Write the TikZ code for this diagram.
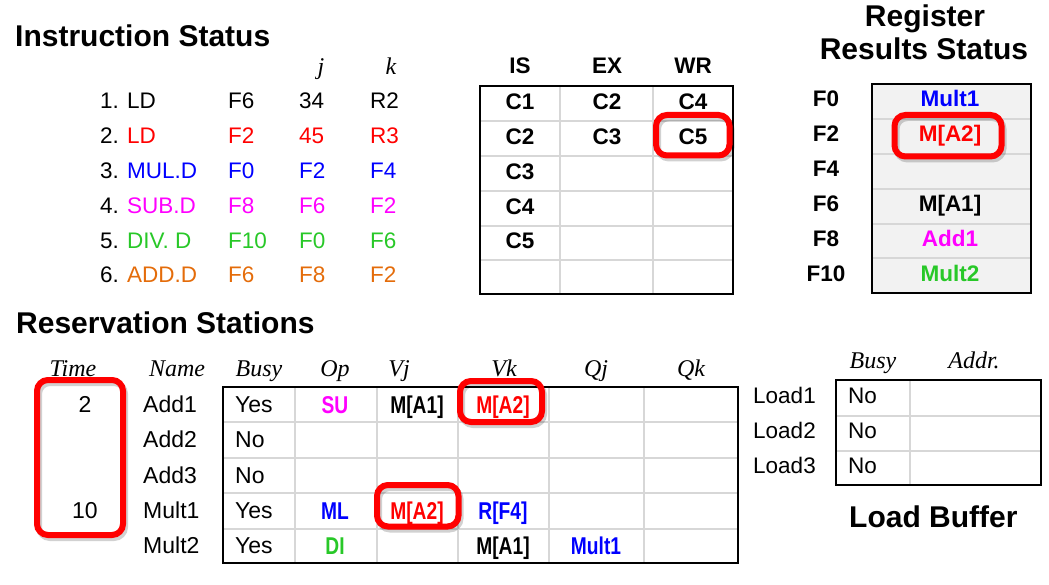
\documentclass[tikz,border=0pt]{standalone}
\usepackage{fontspec}
\setmainfont{Liberation Sans}
\newfontfamily\tms{Liberation Serif}
\newfontfamily\nrw{Liberation Sans}[FakeStretch=0.79]
\definecolor{cgreen}{RGB}{40,200,40}
\definecolor{corange}{RGB}{228,108,10}
\definecolor{cmag}{RGB}{255,0,255}
\definecolor{cblue}{RGB}{0,0,255}
\definecolor{cred}{RGB}{255,0,0}
\definecolor{gridgray}{RGB}{215,215,215}
\definecolor{regfill}{RGB}{242,242,242}
\tikzset{
  txt/.style={inner sep=0pt, font=\fontsize{22.5}{27}\selectfont},
  rtxt/.style={inner sep=0pt, font=\fontsize{23}{27}\selectfont},
  bval/.style={inner sep=0pt, font=\fontsize{22.5}{27}\selectfont\bfseries},
  nval/.style={inner sep=0pt, font=\fontsize{24.3}{28}\selectfont\nrw\bfseries},
  hdr/.style={inner sep=0pt, font=\fontsize{24}{28}\selectfont\tms\itshape},
  ttl/.style={inner sep=0pt, font=\fontsize{30}{36}\selectfont\bfseries},
  border/.style={draw=black, line width=2pt},
  gridline/.style={draw=gridgray, line width=2pt},
  hlshadow/.style={draw=black, draw opacity=0.18, line width=6pt, rounded corners=11pt},
  hl/.style={draw=cred, line width=6pt, rounded corners=11pt},
}
\begin{document}
\begin{tikzpicture}[x=1pt,y=-1pt]
\useasboundingbox (0,0) rectangle (1049,585);

% ---------- Instruction Status ----------
\node[ttl, anchor=base west] (tIS) at (15,47) {Instruction Status};
\node[hdr, anchor=base] (hj) at (321,75) {j};
\node[hdr, anchor=base] (hk) at (391,75) {k};
\foreach \i/\op/\d/\j/\k/\c in {1/LD/F6/34/R2/black, 2/LD/F2/45/R3/cred, 3/MUL.D/F0/F2/F4/cblue, 4/SUB.D/F8/F6/F2/cmag, 5/DIV. D/F10/F0/F6/cgreen, 6/ADD.D/F6/F8/F2/corange}{
  \node[txt, anchor=base west] (inum\i) at (100,{109+34.8*(\i-1)}) {\i.};
  \node[txt, anchor=base west, text=\c] (iop\i) at (127,{109+34.8*(\i-1)}) {\op};
  \node[txt, anchor=base west, text=\c] (idst\i) at (228,{109+34.8*(\i-1)}) {\d};
  \node[txt, anchor=base west, text=\c] (ij\i) at (299,{109+34.8*(\i-1)}) {\j};
  \node[txt, anchor=base west, text=\c] (ik\i) at (370,{109+34.8*(\i-1)}) {\k};
}

% ---------- IS / EX / WR table ----------
\foreach \yy in {121,156,191,226,260} \draw[gridline] (480,\yy) -- (733,\yy);
\foreach \xx in {560,653} \draw[gridline] (\xx,86) -- (\xx,294);
\draw[border] (480,86) rectangle (733,294);
\node[bval, anchor=base] (hIS) at (520,74) {IS};
\node[bval, anchor=base] (hEX) at (607,74) {EX};
\node[bval, anchor=base] (hWR) at (693,74) {WR};
\foreach \i/\a/\b/\c in {1/C1/C2/C4, 2/C2/C3/C5, 3/C3//, 4/C4//, 5/C5//}{
  \node[bval, anchor=base] (is\i) at (520,{110+34.7*(\i-1)}) {\a};
  \node[bval, anchor=base] (ex\i) at (607,{110+34.7*(\i-1)}) {\b};
  \node[bval, anchor=base] (wr\i) at (693,{110+34.7*(\i-1)}) {\c};
}

% ---------- Register Results Status ----------
\node[ttl, anchor=base] (tReg1) at (925,27) {Register};
\node[ttl, anchor=base] (tReg2) at (924,60) {Results Status};
\fill[regfill] (872,84) rectangle (1031,293);
\foreach \yy in {119,154,189,224,258} \draw[gridline] (872,\yy) -- (1031,\yy);
\draw[border] (872,84) rectangle (1031,293);
\foreach \i/\r/\v/\c in {1/F0/Mult1/cblue, 2/F2/M[A2]/cred, 3/F4//black, 4/F6/M[A1]/black, 5/F8/Add1/cmag, 6/F10/Mult2/cgreen}{
  \node[bval, anchor=base] (rl\i) at (826,{107+34.8*(\i-1)}) {\r};
  \node[bval, anchor=base, text=\c] (rv\i) at (950,{107+34.8*(\i-1)}) {\v};
}

% ---------- Reservation Stations ----------
\node[ttl, anchor=base west] (tRS) at (16,333) {Reservation Stations};
\foreach \n/\h/\xx in {1/Time/73, 2/Name/177, 3/Busy/259, 4/Op/335, 5/Vj/399, 6/Vk/504, 7/Qj/596, 8/Qk/691}
  \node[hdr, anchor=base] (rh\n) at (\xx,376) {\h};
\foreach \yy in {422,458,493,529} \draw[gridline] (223,\yy) -- (738,\yy);
\foreach \xx in {295,377,458,549,644} \draw[gridline] (\xx,387) -- (\xx,563);
\draw[border] (223,387) rectangle (738,563);
\foreach \i/\nm/\bz in {1/Add1/Yes, 2/Add2/No, 3/Add3/No, 4/Mult1/Yes, 5/Mult2/Yes}{
  \node[rtxt, anchor=base west] (rn\i) at (143,{412.5+35.3*(\i-1)}) {\nm};
  \node[rtxt, anchor=base west] (rb\i) at (235,{412.5+35.3*(\i-1)}) {\bz};
}
\node[rtxt, anchor=base] (rt1) at (85,412.5) {2};
\node[rtxt, anchor=base] (rt4) at (85,518.5) {10};
\node[nval, anchor=base, text=cmag] (rop1) at (335,413) {SU};
\node[nval, anchor=base] (rvj1) at (417,413) {M[A1]};
\node[nval, anchor=base, text=cred] (rvk1) at (503,413) {M[A2]};
\node[nval, anchor=base, text=cblue] (rop4) at (335,519) {ML};
\node[nval, anchor=base, text=cred] (rvj4) at (417,519) {M[A2]};
\node[nval, anchor=base, text=cblue] (rvk4) at (503,519) {R[F4]};
\node[nval, anchor=base, text=cgreen] (rop5) at (335,554) {DI};
\node[nval, anchor=base] (rvk5) at (503,554) {M[A1]};
\node[nval, anchor=base, text=cblue] (rqj5) at (596,554) {Mult1};

% ---------- Load Buffer ----------
\node[hdr, anchor=base] (lh1) at (873,368) {Busy};
\node[hdr, anchor=base] (lh2) at (974,368) {Addr.};
\foreach \yy in {415.5,450.5} \draw[gridline] (836,\yy) -- (1041,\yy);
\draw[gridline] (910,380) -- (910,485);
\draw[border] (836,380) rectangle (1041,485);
\foreach \i in {1,2,3}{
  \node[txt, anchor=base west] (ln\i) at (753,{403+35*(\i-1)}) {Load\i};
  \node[txt, anchor=base west] (lb\i) at (848,{403+35*(\i-1)}) {No};
}
\node[ttl, anchor=base west] (tLB) at (849,527) {Load Buffer};

% ---------- highlight boxes ----------
\foreach \xa/\ya/\xb/\yb in {656/115/729.5/155.5, 894.5/115/1001.5/156.5, 37/380/123/535, 460/381/542/422, 377/485/458.5/526.5}{
  \draw[hlshadow] ({\xa+2},{\ya+3}) rectangle ({\xb+2},{\yb+3});
  \draw[hl] (\xa,\ya) rectangle (\xb,\yb);
}
\end{tikzpicture}
\end{document}
